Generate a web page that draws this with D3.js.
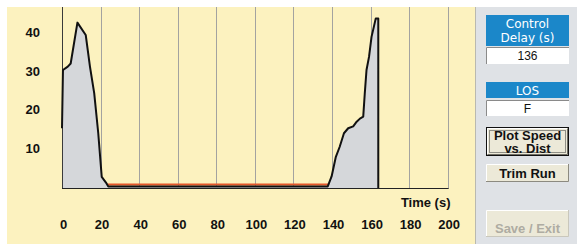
<!DOCTYPE html>
<html>
<head>
<meta charset="utf-8">
<script src="https://cdn.jsdelivr.net/npm/d3@7"></script>
<style>
  html, body { margin: 0; padding: 0; background: #ffffff; }
  svg { display: block; }
</style>
</head>
<body>
<svg id="chart" width="577" height="244"></svg>
<script>
// ---- data ----
const timeS = [0, 0.5, 3, 4.5, 8, 12.3, 14.5, 16.7, 18.8, 20.6, 22.8, 24, 137.8, 139.8, 142, 144, 146.2, 148.4, 151, 152.8, 154.5, 156.2, 157, 157.9, 159.2, 160.5, 161.7, 162.7, 164, 164];
const speed = [15.5, 30.6, 31.5, 32.3, 42.9, 39.7, 31.5, 24.6, 14.2, 2.9, 1.4, 0.4, 0.4, 3, 8.1, 10.7, 14.2, 15.5, 16, 17.2, 18, 18.5, 24.5, 30.6, 34, 39.2, 41.8, 44, 44, 0];
const stopTimes = [23.5, 138.5];
const stopLevel = [0.9, 0.9];
const xTicks = [0, 20, 40, 60, 80, 100, 120, 140, 160, 180, 200];
const yTicks = [10, 20, 30, 40];
const xTitle = "Time (s)";
const delayLabel = ["Control", "Delay (s)"];
const delayValue = "136";
const losLabel = "LOS";
const losValue = "F";
const buttons = [["Plot Speed", "vs. Dist"], ["Trim Run"], ["Save / Exit"]];

const svg = d3.select("#chart");
const x = d3.scaleLinear().domain([0, 200]).range([62, 447.7]);
const y = d3.scaleLinear().domain([0, 40]).range([188, 33.8]);
const plotTop = 7;

// background
svg.append("rect").attr("x", 7).attr("y", 7).attr("width", 469).attr("height", 237).attr("fill", "#fcf2bf");
svg.append("rect").attr("x", 476).attr("y", 7).attr("width", 101).attr("height", 237).attr("fill", "#dfe2e6");
svg.append("line").attr("x1", 475.5).attr("x2", 475.5).attr("y1", 7).attr("y2", 244).attr("stroke", "#b9b9b0").attr("stroke-width", 1);

// gridlines
svg.append("g").selectAll("line").data(xTicks.filter(d => d > 0)).join("line")
  .attr("x1", d => Math.round(x(d)) + 0.5).attr("x2", d => Math.round(x(d)) + 0.5)
  .attr("y1", plotTop).attr("y2", y(0))
  .attr("stroke", "#a3a3a0").attr("stroke-width", 1);

// area + line
const area = d3.area().x((d, i) => x(timeS[i])).y0(y(0)).y1((d) => y(d));
svg.append("path").datum(speed).attr("d", area).attr("fill", "#d5d7da");

// y axis line (t = 0)
svg.append("line").attr("x1", Math.round(x(0)) + 0.5).attr("x2", Math.round(x(0)) + 0.5)
  .attr("y1", plotTop).attr("y2", y(0)).attr("stroke", "#3a3a3a").attr("stroke-width", 1);

// stopped (orange) line
const stopLine = d3.line().x((d, i) => x(stopTimes[i])).y(d => y(d));
svg.append("path").datum(stopLevel).attr("d", stopLine).attr("fill", "none")
  .attr("stroke", "#e4572b").attr("stroke-width", 2);

const line = d3.line().x((d, i) => x(timeS[i])).y(d => y(d));
svg.append("path").datum(speed).attr("d", line).attr("fill", "none")
  .attr("stroke", "#111").attr("stroke-width", 2).attr("stroke-linejoin", "round");

// baseline
svg.append("line").attr("x1", x(0)).attr("x2", x(200) + 1).attr("y1", y(0) + 0.5).attr("y2", y(0) + 0.5)
  .attr("stroke", "#222").attr("stroke-width", 1);

// axes labels
const axisFont = "'Liberation Sans', Arial, sans-serif";
const yAxis = d3.axisLeft(y).tickValues(yTicks).tickSize(0).tickPadding(0);
const gy = svg.append("g").attr("transform", "translate(40,-1.5)").call(yAxis);
gy.select(".domain").remove();
gy.selectAll("text").attr("font-family", axisFont).attr("font-size", 13).attr("font-weight", "bold").attr("fill", "#111");

const xAxis = d3.axisBottom(x).tickValues(xTicks).tickSize(0).tickPadding(0);
const gx = svg.append("g").attr("transform", "translate(1,220)").call(xAxis);
gx.select(".domain").remove();
gx.selectAll("text").attr("font-family", axisFont).attr("font-size", 13).attr("font-weight", "bold").attr("fill", "#111");

svg.append("text").attr("x", 450.5).attr("y", 207).attr("text-anchor", "end")
  .attr("font-family", axisFont).attr("font-size", 13).attr("font-weight", "bold").attr("fill", "#111")
  .text(xTitle);

// ---- right panel ----
const px = 486, pw = 83, cx = px + pw / 2;
const panelFont = "'DejaVu Sans', sans-serif";

function header(y0, h, lines, lineYs) {
  svg.append("rect").attr("x", px).attr("y", y0).attr("width", pw).attr("height", h).attr("fill", "#1b87c9");
  lines.forEach((t, i) => {
    svg.append("text").attr("x", cx).attr("y", lineYs[i]).attr("text-anchor", "middle")
      .attr("font-family", panelFont).attr("font-size", 12).attr("fill", "#ffffff").text(t);
  });
}
function valueBox(y0, h, txt, ty) {
  svg.append("rect").attr("x", px).attr("y", y0).attr("width", pw).attr("height", h).attr("fill", "#ffffff");
  svg.append("path").attr("d", `M${px + 0.5},${y0 + h} V${y0 + 0.5} H${px + pw}`).attr("fill", "none").attr("stroke", "#8a8a8a");
  svg.append("text").attr("x", cx).attr("y", ty).attr("text-anchor", "middle")
    .attr("font-family", axisFont).attr("font-size", 12).attr("fill", "#111").text(txt);
}
header(15, 31, delayLabel, [27.5, 41.5]);
valueBox(47, 17, delayValue, 60);
header(82, 16, [losLabel], [94.5]);
valueBox(100, 16, losValue, 112.5);

function button(y0, h, lines, lineYs, opts) {
  const g = svg.append("g");
  g.append("rect").attr("x", px).attr("y", y0).attr("width", pw).attr("height", h)
    .attr("fill", "#ece9d8");
  if (opts.def) {
    g.append("rect").attr("x", px + 0.5).attr("y", y0 + 0.5).attr("width", pw - 1).attr("height", h - 1)
      .attr("fill", "none").attr("stroke", "#111");
    g.append("path").attr("d", `M${px + 1.5},${y0 + h - 2} V${y0 + 1.5} H${px + pw - 2}`).attr("fill", "none").attr("stroke", "#ffffff");
    g.append("path").attr("d", `M${px + 1.5},${y0 + h - 1.5} H${px + pw - 1.5} V${y0 + 1.5}`).attr("fill", "none").attr("stroke", "#6f6d64");
    g.append("rect").attr("x", px + 3.5).attr("y", y0 + 3.5).attr("width", pw - 7).attr("height", h - 7)
      .attr("fill", "none").attr("stroke", "#333").attr("stroke-dasharray", "1,1");
  } else {
    g.append("path").attr("d", `M${px + 0.5},${y0 + h} V${y0 + 0.5} H${px + pw}`).attr("fill", "none").attr("stroke", "#ffffff");
    g.append("path").attr("d", `M${px},${y0 + h - 0.5} H${px + pw - 0.5} V${y0}`).attr("fill", "none").attr("stroke", opts.disabled ? "#c9c7bc" : "#8c8a80");
  }
  lines.forEach((t, i) => {
    g.append("text").attr("x", cx).attr("y", lineYs[i]).attr("text-anchor", "middle")
      .attr("font-family", axisFont).attr("font-size", 13).attr("font-weight", "bold")
      .attr("fill", opts.disabled ? "#aeaca2" : "#111").text(t);
  });
}
button(127, 29, buttons[0], [139.5, 153], { def: true });
button(164, 18, buttons[1], [177.5], {});
button(210, 27, buttons[2], [233], { disabled: true });
</script>
</body>
</html>
